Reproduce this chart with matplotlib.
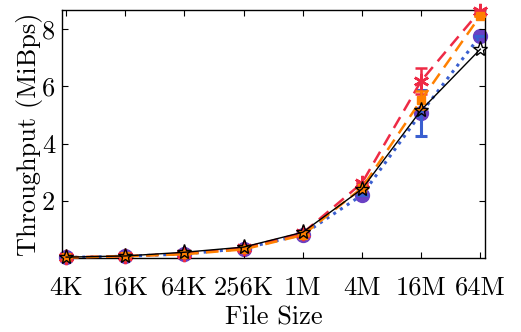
import matplotlib
matplotlib.use("Agg")
import matplotlib.pyplot as plt
import numpy as np

sizes = ["4K", "16K", "64K", "256K", "1M", "4M", "16M", "64M"]
circ_vals = [0.02, 0.06, 0.14, 0.33, 0.82, 2.20, 5.07, 7.77]
circ_err = [0, 0, 0, 0, 0, 0, 0.80, 0]
ast_vals = [0.02, 0.06, 0.15, 0.35, 0.87, 2.62, 6.19, 8.65]
ast_err = [0, 0, 0, 0, 0, 0, 0.45, 0]
sq_vals = [0.02, 0.06, 0.13, 0.30, 0.80, 2.45, 5.52, 8.47]
sq_err = [0, 0, 0, 0, 0, 0, 0.30, 0]
star_vals = [0.03, 0.07, 0.20, 0.38, 0.90, 2.41, 5.17, 7.30]
yticks = [2, 4, 6, 8]

plt.rcParams['font.family'] = ['cmr10', 'DejaVu Serif']
plt.rcParams['axes.formatter.use_mathtext'] = True

fig = plt.figure(figsize=(5.21, 3.32), dpi=100)
ax = fig.add_axes([0.119, 0.223, 0.812, 0.747])
x = np.arange(len(sizes))

ax.plot(x, circ_vals, linestyle='none', marker='o', markersize=10,
        color='#6a40c4', zorder=1, clip_on=False)
ax.errorbar(x, circ_vals, yerr=circ_err, color='#3a5fd0', linestyle=':',
            linewidth=2.2, capsize=4, elinewidth=2.2, capthick=2.2, zorder=2)
e1 = ax.errorbar(x, ast_vals, yerr=ast_err, color='#ee2a45', linestyle=(0, (5, 3)),
                 linewidth=1.8, marker=(6, 2, 0), markersize=11, markeredgewidth=1.8,
                 capsize=4, elinewidth=1.8, capthick=1.8, zorder=3)
e2 = ax.errorbar(x, sq_vals, yerr=sq_err, color='#ff8000', linestyle=(0, (5, 3)),
                 linewidth=1.8, marker='s', markersize=6, capsize=4,
                 elinewidth=1.8, capthick=1.8, zorder=4)
for e in (e1, e2):
    e[0].set_clip_on(False)
ax.plot(x, star_vals, color='black', linestyle='-', linewidth=1.0,
        marker='*', markersize=11, markerfacecolor='none',
        markeredgecolor='black', markeredgewidth=1.0, zorder=5, clip_on=False)

ax.set_xlim(-0.07, 7.08)
ax.set_ylim(0, 8.67)
ax.set_xticks(x)
ax.set_xticklabels(sizes)
ax.set_yticks(yticks)
ax.set_yticklabels([str(t) for t in yticks])
ax.tick_params(direction='in', top=True, right=True, labelsize=19,
               length=4, width=0.8)
ax.tick_params(axis='x', pad=13)
ax.tick_params(axis='y', pad=5)
for s in ax.spines.values():
    s.set_linewidth(1.0)
ax.set_xlabel("File Size", fontsize=19, labelpad=4)
ax.set_ylabel("Throughput (MiBps)", fontsize=19, labelpad=-1)

fig.savefig("out.png", dpi=100)
